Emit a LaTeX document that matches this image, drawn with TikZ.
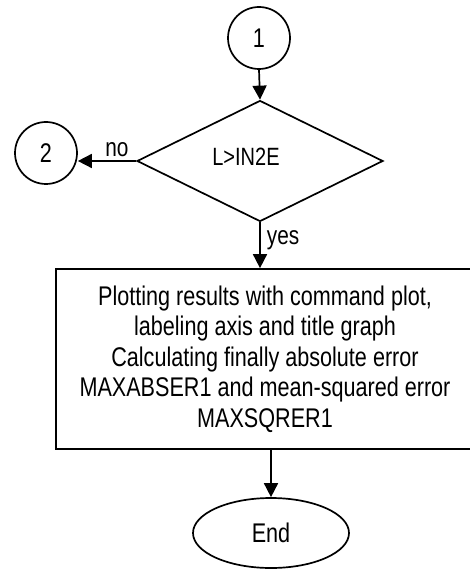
\documentclass[tikz,border=0pt]{standalone}
\usepackage{fontspec}
\setmainfont{Liberation Sans}[FakeStretch=0.8]
\usetikzlibrary{shapes.geometric,arrows.meta}
\tikzset{
  conn/.style={line width=1.7pt,-{Triangle[length=14pt,width=14pt]}},
  shp/.style={draw,line width=1.7pt,inner sep=0pt,font=\fontsize{27}{30.5}\selectfont},
  lbl/.style={inner sep=0pt,font=\fontsize{26}{30}\selectfont}
}
\begin{document}
\begin{tikzpicture}[x=1pt,y=-1pt]
\useasboundingbox (0,0) rectangle (469,569);
\node[shp,circle,minimum size=62pt] (c1) at (259,38) {1};
\node[shp,diamond,minimum width=246pt,minimum height=121pt,font=\fontsize{25}{28}\selectfont] (d) at (260,161) {\raisebox{9pt}{\hspace*{-28pt}L>IN2E}};
\node[shp,circle,minimum size=62pt] (c2) at (46,153) {2};
\node[shp,rectangle,minimum width=418pt,minimum height=180pt,align=center] (box) at (265,359)
  {Plotting results with command plot,\\labeling axis and title graph\\Calculating finally absolute error\\MAXABSER1 and mean-squared error\\MAXSQRER1};
\node[shp,ellipse,minimum width=156pt,minimum height=70pt] (e) at (271,533) {End};
\draw[conn] (c1.south) -- (d.north);
\draw[conn] (d.west) -- (c2.east |- d.west) node[lbl,pos=0.33,above=3pt] (no) {no};
\draw[conn] (d.south) -- (d.south |- box.north) node[lbl,pos=0.4,right=6pt] (yes) {yes};
\draw[conn] (e.north |- box.south) -- (e.north);
\end{tikzpicture}
\end{document}
